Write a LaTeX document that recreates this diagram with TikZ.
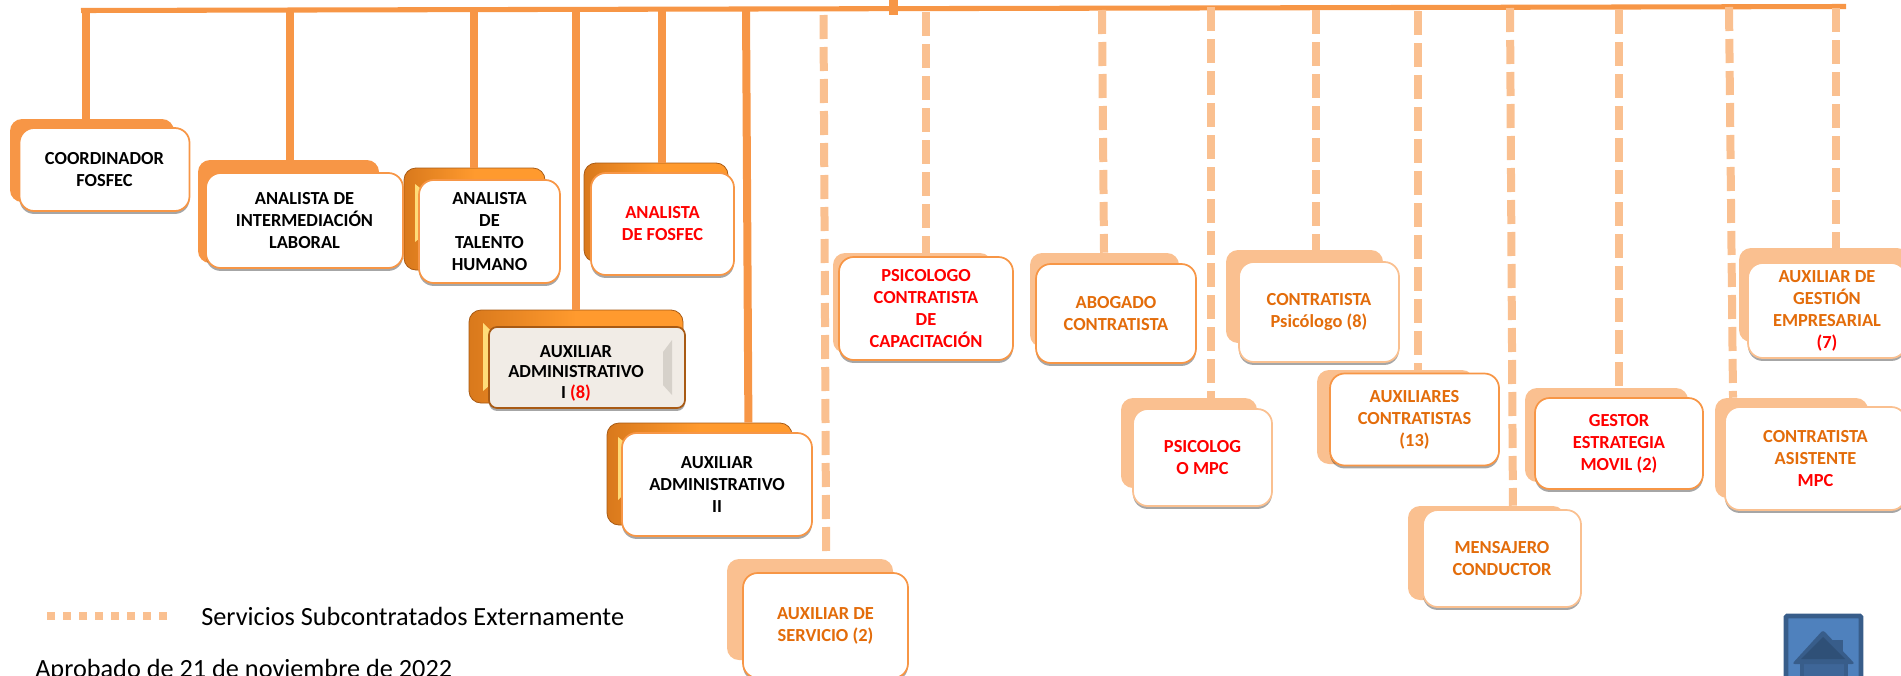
\documentclass[tikz,border=0pt]{standalone}
\usepackage{fontspec}
\setmainfont{Carlito}
\usepackage{xcolor}
\usetikzlibrary{arrows.meta, positioning, calc, shadows}
\definecolor{barorange}{HTML}{F79646}
\definecolor{softorange}{HTML}{FAC090}
\definecolor{roleorange}{HTML}{E36C0A}
\definecolor{rolered}{HTML}{FF0000}
\definecolor{goldlight}{HTML}{FF9A2E}
\definecolor{golddark}{HTML}{D9791C}
\definecolor{goldedge}{HTML}{A85A14}
\definecolor{goldshine}{HTML}{FFDC78}
\definecolor{bevelfill}{HTML}{F1ECE6}
\definecolor{beveldark}{HTML}{D6D1CA}
\definecolor{iconblue}{HTML}{4F81BD}
\definecolor{iconedge}{HTML}{385D8A}
\definecolor{icondark}{HTML}{2F5077}
\definecolor{iconbody}{HTML}{3E6698}

\begin{document}
\begin{tikzpicture}[
    x=0.75pt, y=-0.75pt,
    boxsize/.style 2 args={minimum width=#1*0.75pt, minimum height=#2*0.75pt},
    backbox/.style={rectangle, rounded corners=9pt, inner sep=0pt},
    solidback/.style={backbox, fill=barorange},
    softback/.style={backbox, fill=softorange},
    goldback/.style={backbox, draw=goldedge, line width=0.6pt, left color=golddark, right color=goldlight, middle color=goldlight},
    frontbox/.style={rectangle, rounded corners=11pt, draw=barorange, line width=1.3pt, fill=white, inner sep=0pt, align=center,
        font=\fontsize{13.8}{16.5}\selectfont\bfseries,
        execute at begin node={\rule{0pt}{15.5pt}},
        drop shadow={shadow xshift=0pt, shadow yshift=-2.2pt, opacity=0.35, fill=black}},
    palebox/.style={frontbox, draw=softorange},
    bevelbox/.style={frontbox, draw=goldedge, fill=bevelfill, rounded corners=6pt},
    rolelabel/.style={inner sep=0pt, align=center, font=\fontsize{13.8}{15.4}\selectfont\bfseries},
    plainlabel/.style={inner sep=0pt, anchor=base west, font=\fontsize{19.7}{24}\selectfont},
    solidline/.style={draw=barorange, line width=6pt},
    dashline/.style={draw=softorange, line width=6pt, dash pattern=on 18pt off 6pt},
    legendline/.style={draw=softorange, line width=6pt, dash pattern=on 5.7pt off 6.3pt}
]
\clip (0,0) rectangle (1901,675);

% top bar
\coordinate (barLeft) at (81,10.5);
\coordinate (barRight) at (1846,6.5);
\coordinate (barTick) at (893.5,0);
\coordinate (tapCoord) at (85.5,10);
\coordinate (tapLaboral) at (290,10);
\coordinate (tapTalento) at (474,10);
\coordinate (tapAuxUno) at (576,10);
\coordinate (tapFosfec) at (662,9);
\coordinate (tapAuxDos) at (746,9);
\coordinate (tapServicio) at (823.5,15);
\coordinate (tapPsicologo) at (926,12);
\coordinate (tapAbogado) at (1102,10);
\coordinate (tapMpc) at (1211,7);
\coordinate (tapContPsi) at (1316,10);
\coordinate (tapAuxiliares) at (1418,11);
\coordinate (tapMensajero) at (1510,8);
\coordinate (tapGestor) at (1619,10);
\coordinate (tapAsistente) at (1729,7);
\coordinate (tapGestion) at (1836,8);

% back plates
\node[solidback, boxsize={164}{83}] (coordBack) at (92,160.5) {};
\node[solidback, boxsize={181}{103}] (laboralBack) at (288.5,211.5) {};
\node[goldback, boxsize={141}{102}] (talentoBack) at (474.5,219) {};
\node[goldback, boxsize={144}{99}] (fosfecBack) at (656,212.5) {};
\node[goldback, boxsize={214}{93}] (auxUnoBack) at (576,356.5) {};
\node[goldback, boxsize={185}{102}] (auxDosBack) at (699.5,474) {};
\node[softback, boxsize={166}{101}] (servicioBack) at (810,609.5) {};
\node[softback, boxsize={159}{100}] (psicologoBack) at (912.5,303) {};
\node[softback, boxsize={149}{94}] (abogadoBack) at (1104.5,300) {};
\node[softback, boxsize={136}{90}] (mpcBack) at (1189,443) {};
\node[softback, boxsize={157}{93}] (contPsiBack) at (1304.5,296.5) {};
\node[softback, boxsize={157}{94}] (auxiliaresBack) at (1395.5,417) {};
\node[softback, boxsize={157}{94}] (mensajeroBack) at (1486.5,553) {};
\node[softback, boxsize={163}{94}] (gestorBack) at (1606.5,435) {};
\node[softback, boxsize={153}{100}] (asistenteBack) at (1791.5,448) {};
\node[softback, boxsize={170}{94}] (gestionBack) at (1824,295) {};

% shine on the gold plates
\fill[goldshine] (483,323) -- (490,330) -- (490,385) -- (483,391) -- cycle;
\fill[goldshine] (415,184) -- (420,188) -- (420,238) -- (415,242) -- cycle;
\fill[goldshine] (618,437) -- (623,441) -- (623,495) -- (618,500) -- cycle;

% front boxes
\node[frontbox, boxsize={170}{83}] (coord) at (104.5,169.5) {COORDINADOR\\FOSFEC};
\node[frontbox, boxsize={197}{95}] (laboral) at (304.5,220.5) {ANALISTA DE\\INTERMEDIACIÓN\\LABORAL};
\node[frontbox, boxsize={141}{103}] (talento) at (489.5,231.5) {ANALISTA\\DE\\TALENTO\\HUMANO};
\node[frontbox, boxsize={143}{102}, text=rolered] (fosfec) at (662.5,224) {ANALISTA\\DE FOSFEC};
\node[bevelbox, boxsize={196}{81}] (auxUno) at (587,367.5) {};
\fill[beveldark] (663,352) -- (672,340) -- (672,395) -- (663,385) -- cycle;
\node[rolelabel] (auxUnoText) at (576,373) {AUXILIAR\\ADMINISTRATIVO\\I \textcolor{rolered}{(8)}};
\node[frontbox, boxsize={190}{103}] (auxDos) at (717,484.5) {AUXILIAR\\ADMINISTRATIVO\\II};
\node[frontbox, boxsize={165}{105}, text=roleorange] (servicio) at (825.5,625.5) {AUXILIAR DE\\SERVICIO (2)};
\node[frontbox, boxsize={174}{103}, text=rolered] (psicologo) at (926,308.5) {PSICOLOGO\\CONTRATISTA\\DE\\CAPACITACIÓN};
\node[frontbox, boxsize={160}{99}, text=roleorange] (abogado) at (1116,313.5) {ABOGADO\\CONTRATISTA};
\node[palebox, boxsize={139}{97}, text=rolered] (mpc) at (1202.5,457.5) {PSICOLOG\\O MPC};
\node[palebox, boxsize={160}{100}, text=roleorange] (contPsi) at (1319,312) {CONTRATISTA\\Psicólogo (8)};
\node[frontbox, boxsize={169}{92}, text=roleorange] (auxiliares) at (1414.5,419.5) {AUXILIARES\\CONTRATISTAS\\(13)};
\node[palebox, boxsize={158}{97}, text=roleorange] (mensajero) at (1502,558.5) {MENSAJERO\\CONDUCTOR};
\node[frontbox, boxsize={168}{91}, text=rolered] (gestor) at (1619,443.5) {GESTOR\\ESTRATEGIA\\MOVIL (2)};
\node[palebox, boxsize={181}{103}, text=roleorange] (asistente) at (1815.5,458.5) {CONTRATISTA\\ASISTENTE\\\textcolor{rolered}{MPC}};
\node[palebox, boxsize={158}{95}, text=roleorange] (gestion) at (1827,310.5) {AUXILIAR DE\\GESTIÓN\\EMPRESARIAL\\\textcolor{rolered}{(7)}};

% bar and connectors
\draw[draw=barorange, line width=3.8pt] (barLeft) -- (barRight);
\draw[draw=barorange, line width=6.5pt] (barTick) -- ++(0,15);
\draw[solidline] (tapCoord) -- (tapCoord |- coordBack.north);
\draw[solidline] (tapLaboral) -- (tapLaboral |- laboralBack.north);
\draw[solidline] (tapTalento) -- (tapTalento |- talentoBack.north);
\draw[solidline] (tapAuxUno) -- (tapAuxUno |- auxUnoBack.north);
\draw[solidline] (tapFosfec) -- (tapFosfec |- fosfecBack.north);
\draw[solidline] (tapAuxDos) -- ([xshift=1.8pt]tapAuxDos |- auxDosBack.north);
\draw[dashline] (tapServicio) -- ([xshift=2pt]tapServicio |- servicioBack.north);
\draw[dashline] (tapPsicologo) -- (tapPsicologo |- psicologoBack.north);
\draw[dashline] (tapAbogado) -- ([xshift=1.5pt]tapAbogado |- abogadoBack.north);
\draw[dashline] (tapMpc) -- (tapMpc |- mpcBack.north);
\draw[dashline] (tapContPsi) -- (tapContPsi |- contPsiBack.north);
\draw[dashline] (tapAuxiliares) -- (tapAuxiliares |- auxiliaresBack.north);
\draw[dashline] (tapMensajero) -- ([xshift=2.2pt]tapMensajero |- mensajeroBack.north);
\draw[dashline] (tapGestor) -- (tapGestor |- gestorBack.north);
\draw[dashline] (tapAsistente) -- ([xshift=3pt]tapAsistente |- asistenteBack.north);
\draw[dashline] (tapGestion) -- (tapGestion |- gestionBack.north);

% legend
\coordinate (legendStart) at (47,616);
\coordinate (legendEnd) at (167,616);
\node[plainlabel] (legendText) at (201,625) {Servicios Subcontratados Externamente};
\draw[legendline] (legendStart) -- (legendEnd);
\node[plainlabel] (approved) at (35,677) {Aprobado de 21 de noviembre de 2022};

% home icon
\draw[fill=iconblue, draw=iconedge, line width=3.6pt, rounded corners=1pt] (1786,616) rectangle (1861,690);
\fill[iconedge] (1832,640) rectangle (1843,665);
\fill[iconbody, draw=iconedge, line width=3pt] (1802,660) rectangle (1846,690);
\fill[iconedge, rounded corners=2pt] (1823,630) -- (1855,664) -- (1792,664) -- cycle;
\fill[icondark] (1823,637) -- (1845,659) -- (1801,659) -- cycle;
\end{tikzpicture}
\end{document}
